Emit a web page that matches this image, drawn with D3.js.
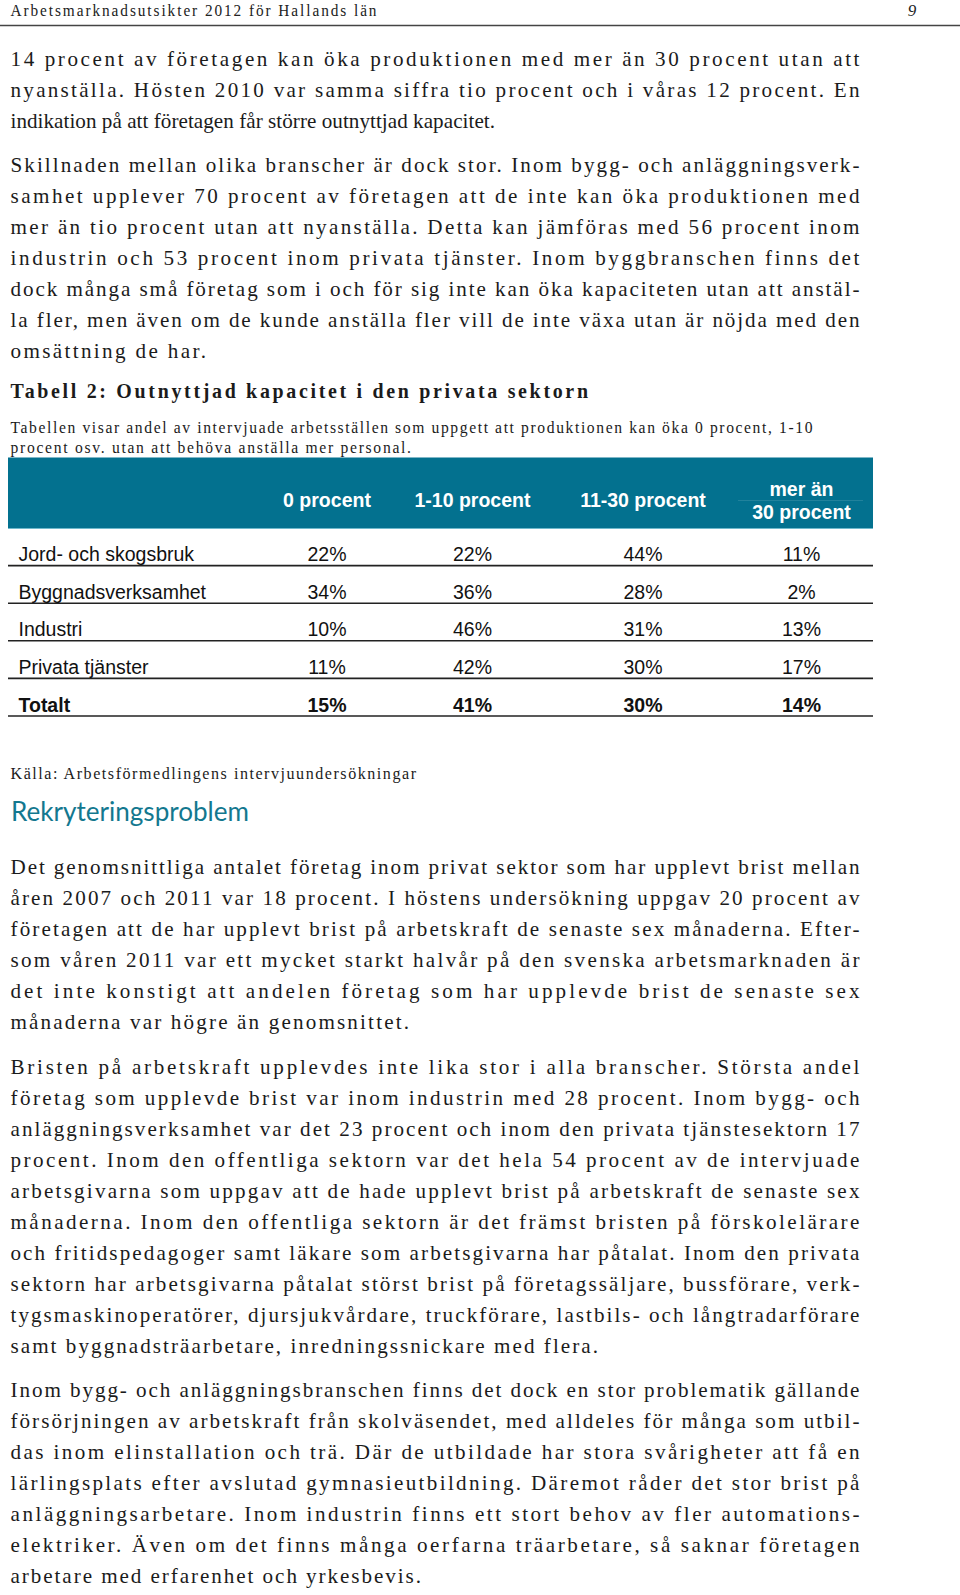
<!DOCTYPE html>
<html><head><meta charset="utf-8">
<script src="https://cdn.jsdelivr.net/npm/d3@7"></script>
<style>
html,body{margin:0;padding:0;background:#fff;}
svg{display:block;}
</style></head>
<body>
<script>
// ---------------- DATA ----------------
const pageHeader = "Arbetsmarknadsutsikter 2012  för Hallands län";
const pageNumber = "9";

const para1 = [
  "14 procent av företagen kan öka produktionen med mer än 30 procent utan att",
  "nyanställa. Hösten 2010 var samma siffra tio procent och i våras 12 procent. En",
  "indikation på att företagen får större outnyttjad kapacitet."
];
const para2 = [
  "Skillnaden mellan olika branscher är dock stor. Inom bygg- och anläggningsverk-",
  "samhet upplever 70 procent av företagen att de inte kan öka produktionen med",
  "mer än tio procent utan att nyanställa. Detta kan jämföras med 56 procent inom",
  "industrin och 53 procent inom privata tjänster. Inom byggbranschen finns det",
  "dock många små företag som i och för sig inte kan öka kapaciteten utan att anstäl-",
  "la fler, men även om de kunde anställa fler vill de inte växa utan är nöjda med den",
  "omsättning de har."
];
const tableTitle = "Tabell 2: Outnyttjad kapacitet i den privata sektorn";
const tableSubtitle = [
  "Tabellen visar andel av intervjuade arbetsställen som uppgett att produktionen kan öka 0 procent, 1-10",
  "procent osv. utan att behöva anställa mer personal."
];
const columns = ["0 procent", "1-10 procent", "11-30 procent", "mer än 30 procent"];
const columnHeaderLines = [["0 procent"], ["1-10 procent"], ["11-30 procent"], ["mer än", "30 procent"]];
const sectors = ["Jord- och skogsbruk", "Byggnadsverksamhet", "Industri", "Privata tjänster", "Totalt"];
const share0 = [22, 34, 10, 11, 15];
const share1to10 = [22, 36, 46, 42, 41];
const share11to30 = [44, 28, 31, 30, 30];
const shareOver30 = [11, 2, 13, 17, 14];
const source = "Källa: Arbetsförmedlingens intervjuundersökningar";
const heading = "Rekryteringsproblem";

const para3 = [
  "Det genomsnittliga antalet företag inom privat sektor som har upplevt brist mellan",
  "åren 2007 och 2011 var 18 procent. I höstens undersökning uppgav 20 procent av",
  "företagen att de har upplevt brist på arbetskraft de senaste sex månaderna. Efter-",
  "som våren 2011 var ett mycket starkt halvår på den svenska arbetsmarknaden är",
  "det inte konstigt att andelen företag som har upplevde brist de senaste sex",
  "månaderna var högre än genomsnittet."
];
const para4 = [
  "Bristen på arbetskraft upplevdes inte lika stor i alla branscher. Största andel",
  "företag som upplevde brist var inom industrin med 28 procent. Inom bygg- och",
  "anläggningsverksamhet var det 23 procent och inom den privata tjänstesektorn 17",
  "procent. Inom den offentliga sektorn var det hela 54 procent av de intervjuade",
  "arbetsgivarna som uppgav att de hade upplevt brist på arbetskraft de senaste sex",
  "månaderna. Inom den offentliga sektorn är det främst bristen på förskolelärare",
  "och fritidspedagoger samt läkare som arbetsgivarna har påtalat. Inom den privata",
  "sektorn har arbetsgivarna påtalat störst brist på företagssäljare, bussförare, verk-",
  "tygsmaskinoperatörer, djursjukvårdare, truckförare, lastbils- och långtradarförare",
  "samt byggnadsträarbetare, inredningssnickare med flera."
];
const para5 = [
  "Inom bygg- och anläggningsbranschen finns det dock en stor problematik gällande",
  "försörjningen av arbetskraft från skolväsendet, med alldeles för många som utbil-",
  "das inom elinstallation och trä. Där de utbildade har stora svårigheter att få en",
  "lärlingsplats efter avslutad gymnasieutbildning. Däremot råder det stor brist på",
  "anläggningsarbetare. Inom industrin finns ett stort behov av fler automations-",
  "elektriker. Även om det finns många oerfarna träarbetare, så saknar företagen",
  "arbetare med erfarenhet och yrkesbevis."
];

// ---------------- LAYOUT ----------------
const W = 960, H = 1595;
const left = 10.5, right = 859.5;
const lineH = 31;
const serif = "'Liberation Serif','Times New Roman',serif";
const sans = "'Liberation Sans',Arial,sans-serif";
const textColor = "#1b1b1b";
const teal = "#03718f";
const bodySize = 22, bodySx = 0.96;

const paragraphs = [
  {lines: para1, y0: 66,   lastEnd: 495},
  {lines: para2, y0: 172,  lastEnd: 206},
  {lines: para3, y0: 873.5,lastEnd: 409},
  {lines: para4, y0: 1074, lastEnd: 598},
  {lines: para5, y0: 1397, lastEnd: 421}
];

const svg = d3.select("body").append("svg").attr("width", W).attr("height", H);

// text whose glyphs are horizontally condensed by sx, spread to the given width
function spreadText(parent, str, x, y, width, opts) {
  const sx = opts.sx || 1;
  const g = parent.append("g").attr("transform", `translate(${x},${y}) scale(${sx},1)`);
  g.append("text").attr("x", 0).attr("y", 0)
    .attr("font-family", opts.family || serif)
    .attr("font-size", opts.size)
    .attr("font-weight", opts.weight || "normal")
    .attr("font-style", opts.style || "normal")
    .attr("fill", opts.fill || textColor)
    .attr("textLength", width / sx).attr("lengthAdjust", "spacing")
    .text(str);
  return g;
}

// Page header
spreadText(svg, pageHeader, left, 16, 366, {size: 17, sx: 0.9, fill: "#222"});
svg.append("text").attr("x", 912).attr("y", 16).attr("text-anchor", "middle")
  .attr("font-family", serif).attr("font-size", 17).attr("font-style", "italic").attr("fill", "#222")
  .text(pageNumber);
svg.append("line").attr("x1", 0).attr("x2", W).attr("y1", 25.5).attr("y2", 25.5)
  .attr("stroke", "#444").attr("stroke-width", 1.5);

// Body paragraphs
paragraphs.forEach(p => {
  const g = svg.append("g");
  p.lines.forEach((line, i) => {
    const w = i === p.lines.length - 1 ? p.lastEnd - left : right - left;
    spreadText(g, line, left, p.y0 + i * lineH, w, {size: bodySize, sx: bodySx});
  });
});

// Table title & subtitle
spreadText(svg, tableTitle, left, 397.5, 588 - left, {size: 21, sx: 0.95, weight: "bold"});
tableSubtitle.forEach((line, i) => {
  spreadText(svg, line, left, 433 + i * 19.5, (i === 0 ? 812.5 : 411) - left, {size: 17, sx: 0.92});
});

// Table
const tableLeft = 8, tableRight = 873;
const headTop = 457.5, headBottom = 529;
const colWidths = [124, 167, 174, 143];
const colStart = tableRight - d3.sum(colWidths);
const colEdges = [colStart].concat(Array.from(d3.cumsum(colWidths), c => colStart + c));
const colCenters = colWidths.map((w, i) => colEdges[i] + w / 2);
const x = d3.scaleOrdinal().domain(columns).range(colCenters);
const y = d3.scaleBand().domain(sectors).range([headBottom - 1, headBottom - 1 + 37.6 * sectors.length]);

svg.append("rect").attr("x", tableLeft).attr("y", headTop)
  .attr("width", tableRight - tableLeft).attr("height", headBottom - headTop).attr("fill", teal);
svg.append("line").attr("x1", tableLeft).attr("x2", tableRight).attr("y1", headBottom - 0.5).attr("y2", headBottom - 0.5)
  .attr("stroke", "#6fb9cc").attr("stroke-width", 1);
svg.append("line").attr("x1", colEdges[3] + 8).attr("x2", tableRight - 10).attr("y1", 500.5).attr("y2", 500.5)
  .attr("stroke", "rgba(255,255,255,0.12)").attr("stroke-width", 1);

columns.forEach((c, i) => {
  const ls = columnHeaderLines[i];
  const baseY = ls.length === 1 ? [507] : [496, 519];
  ls.forEach((l, j) => {
    svg.append("text").attr("x", x(c)).attr("y", baseY[j]).attr("text-anchor", "middle")
      .attr("font-family", sans).attr("font-size", 19.5).attr("font-weight", "bold").attr("fill", "#fff")
      .text(l);
  });
});

const seriesValues = [share0, share1to10, share11to30, shareOver30];
const rows = sectors.map((s, r) => ({sector: s, values: seriesValues.map(v => v[r]), bold: s === "Totalt"}));

const rowG = svg.selectAll("g.row").data(rows).join("g").attr("class", "row");
rowG.append("line")
  .attr("x1", tableLeft).attr("x2", tableRight)
  .attr("y1", d => y(d.sector) + y.bandwidth()).attr("y2", d => y(d.sector) + y.bandwidth())
  .attr("stroke", "#222").attr("stroke-width", 1.6);
rowG.append("text")
  .attr("x", 18.5).attr("y", d => y(d.sector) + y.bandwidth() - 4.5)
  .attr("font-family", sans).attr("font-size", 19.5).attr("fill", "#111")
  .attr("font-weight", d => d.bold ? "bold" : "normal")
  .text(d => d.sector);
rowG.each(function(d) {
  d3.select(this).selectAll("text.val").data(d.values).join("text").attr("class", "val")
    .attr("x", (v, i) => x(columns[i])).attr("y", y(d.sector) + y.bandwidth() - 4.5)
    .attr("text-anchor", "middle")
    .attr("font-family", sans).attr("font-size", 19.5).attr("fill", "#111")
    .attr("font-weight", d.bold ? "bold" : "normal")
    .text(v => v + "%");
});

// Source
spreadText(svg, source, left, 779, 416 - left, {size: 17.5, sx: 0.92});

// Heading
svg.append("text").attr("x", 11).attr("y", 821)
  .attr("font-family", "Lato,'Open Sans',sans-serif").attr("font-size", 27).attr("fill", "#13788f")
  .attr("textLength", 238).attr("lengthAdjust", "spacingAndGlyphs")
  .text(heading);
</script>
</body></html>
